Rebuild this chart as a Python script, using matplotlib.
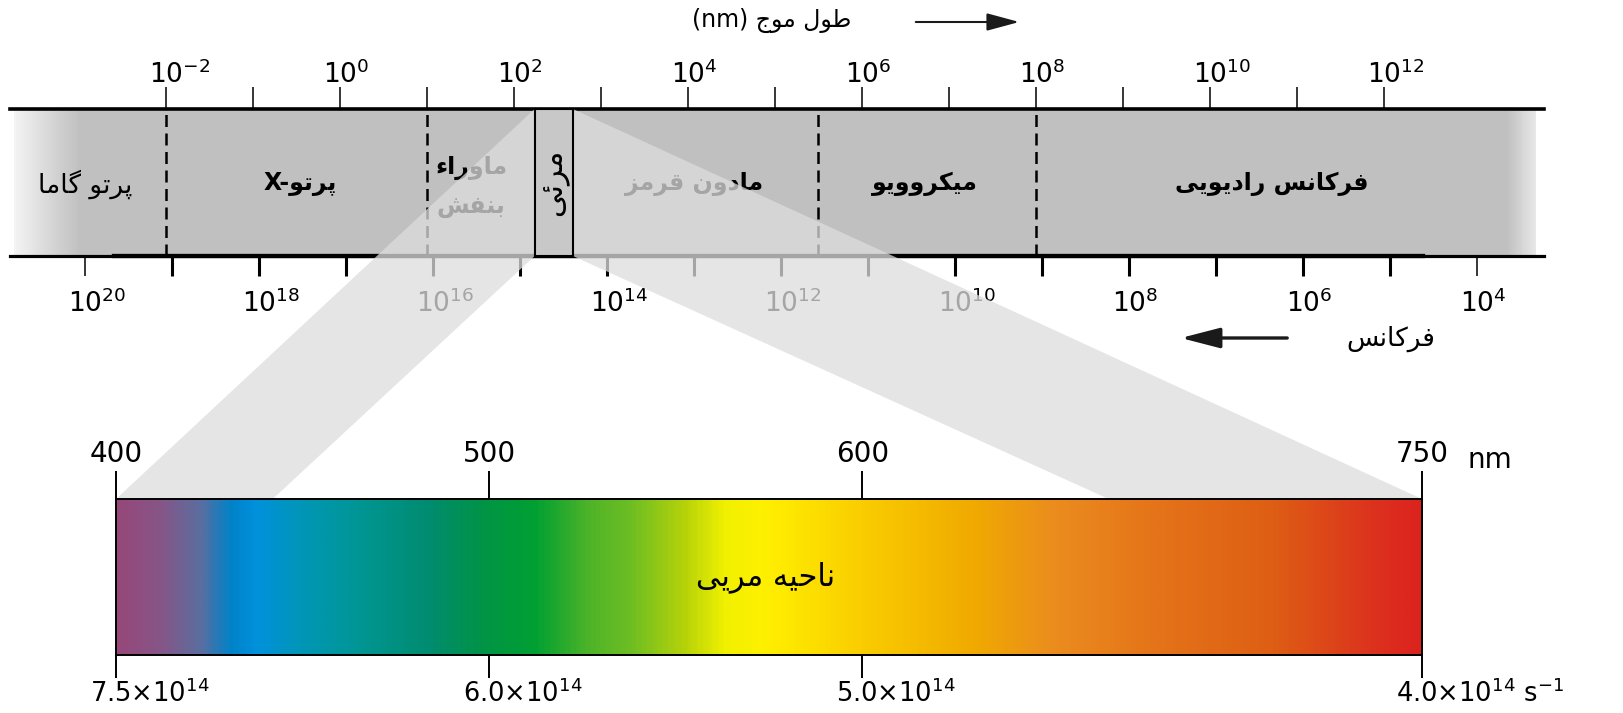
import numpy as np
import matplotlib
matplotlib.use('Agg')
import matplotlib.pyplot as plt
from matplotlib.colors import LinearSegmentedColormap
from matplotlib.patches import Polygon, Rectangle, FancyArrowPatch
from matplotlib.ticker import NullFormatter
from matplotlib.transforms import ScaledTranslation

plt.rcParams['font.family'] = ['DejaVu Sans']
plt.rcParams['mathtext.fontset'] = 'dejavusans'

W, H = 1624, 713

# ---- data -------------------------------------------------------------
# wavelength axis (nm), exponents of ten
wl_lim_exp = (-3.786, 13.837)
wl_major_exp = [-2, 0, 2, 4, 6, 8, 10, 12]
wl_minor_exp = [-1, 1, 3, 5, 7, 9, 11]
wl_labels = [r'$10^{%d}$' % e for e in wl_major_exp]

# frequency axis (Hz); the drawing puts nu*lambda = 10**17.07
c_exp = 17.07
fr_major_exp = [20, 18, 16, 14, 12, 10, 8, 6, 4]
fr_minor_exp = [19, 17, 15, 13, 11, 9, 7, 5]
fr_labels = [r'$10^{%d}$' % e for e in fr_major_exp]
fr_thick_exp = (19.66, 4.62)

# region borders (wavelength exponents)
dashed_exp = [-2, 1, 5.5, 8]
visible_exp = (2.24, 2.68)

region_names = ['پرتو گاما', 'پرتو-X', 'ماوراء\nبنفش', 'مادون قرمز', 'میکروویو', 'فرکانس رادیویی']
region_exp = [-2.93, -0.46, 1.51, 4.07, 6.73, 10.71]
region_y = [0.49, 0.49, 0.47, 0.49, 0.49, 0.49]
region_weight = ['normal', 'bold', 'bold', 'bold', 'bold', 'bold']
region_size = [19, 17, 17, 17, 17, 17]

# band shading (grey level along the wavelength exponent)
fill_exp = [-3.786, -3.74, -3.73, -3.0, 13.42, 13.75, 13.76, 13.837]
fill_val = [1.0, 1.0, 0.95, 0.753, 0.753, 0.91, 1.0, 1.0]

# visible spectrum
spec_ticks_nm = [400, 500, 600, 750]
spec_tick_labels = ['400', '500', '600', '750']
spec_freq = [7.5e14, 6.0e14, 5.0e14, 4.0e14]
spec_freq_labels = [r'7.5×10$^{14}$', r'6.0×10$^{14}$', r'5.0×10$^{14}$', r'4.0×10$^{14}$ s$^{-1}$']
spec_nm = [400, 411, 422, 430, 437, 450, 464, 484, 498, 512, 527, 538, 552, 563,
           574, 600, 630, 652, 680, 710, 738, 750]
spec_rgb = [(150, 72, 122), (135, 85, 135), (90, 110, 160), (0, 130, 200), (0, 145, 220),
            (0, 150, 180), (0, 150, 150), (0, 140, 110), (0, 148, 70), (0, 160, 50),
            (80, 180, 40), (110, 190, 35), (180, 210, 10), (240, 240, 0), (255, 240, 0),
            (250, 205, 0), (240, 170, 0), (235, 140, 30), (228, 115, 25), (222, 95, 20),
            (220, 50, 30), (220, 35, 30)]
beam_inner_nm = (442, 666)


# ---- persian shaping (matplotlib draws glyphs left to right, unjoined) --
FORMS = {
    'ا': (0xFE8D, 0xFE8E, None, None), 'ب': (0xFE8F, 0xFE90, 0xFE91, 0xFE92),
    'پ': (0xFB56, 0xFB57, 0xFB58, 0xFB59), 'ت': (0xFE95, 0xFE96, 0xFE97, 0xFE98),
    'ج': (0xFE9D, 0xFE9E, 0xFE9F, 0xFEA0), 'ح': (0xFEA1, 0xFEA2, 0xFEA3, 0xFEA4),
    'د': (0xFEA9, 0xFEAA, None, None), 'ر': (0xFEAD, 0xFEAE, None, None),
    'ز': (0xFEAF, 0xFEB0, None, None), 'س': (0xFEB1, 0xFEB2, 0xFEB3, 0xFEB4),
    'ش': (0xFEB5, 0xFEB6, 0xFEB7, 0xFEB8), 'ط': (0xFEC1, 0xFEC2, 0xFEC3, 0xFEC4),
    'ف': (0xFED1, 0xFED2, 0xFED3, 0xFED4), 'ق': (0xFED5, 0xFED6, 0xFED7, 0xFED8),
    'ک': (0xFB8E, 0xFB8F, 0xFB90, 0xFB91), 'گ': (0xFB92, 0xFB93, 0xFB94, 0xFB95),
    'ل': (0xFEDD, 0xFEDE, 0xFEDF, 0xFEE0), 'م': (0xFEE1, 0xFEE2, 0xFEE3, 0xFEE4),
    'ن': (0xFEE5, 0xFEE6, 0xFEE7, 0xFEE8), 'و': (0xFEED, 0xFEEE, None, None),
    'ه': (0xFEE9, 0xFEEA, 0xFEEB, 0xFEEC), 'ی': (0xFBFC, 0xFBFD, 0xFBFE, 0xFBFF),
    'ئ': (0xFE89, 0xFE8A, 0xFE8B, 0xFE8C), 'ء': (0xFE80, None, None, None),
}


def shape_line(s):
    out = []
    for i, ch in enumerate(s):
        f = FORMS.get(ch)
        if f is None:
            out.append(ch)
            continue
        prev = s[i - 1] if i > 0 else ''
        nxt = s[i + 1] if i + 1 < len(s) else ''
        jp = prev in FORMS and FORMS[prev][2] is not None and f[1] is not None
        jn = f[2] is not None and nxt in FORMS and FORMS[nxt][1] is not None
        if jp and jn:
            c = f[3]
        elif jp:
            c = f[1]
        elif jn:
            c = f[2]
        else:
            c = f[0]
        out.append(chr(c))
    return ''.join(out)[::-1]


def fa(s):
    return '\n'.join(shape_line(line) for line in s.split('\n'))


def rect(l, t, r, b):
    return [l / W, 1 - b / H, (r - l) / W, (b - t) / H]


def px(x, y):
    return (x / W, 1 - y / H)


def hang_exponent(axis_obj, top):
    # keep the "10" centred on its tick and let the exponent hang to the right
    shift = ScaledTranslation(-12.1 / 72, 0, fig.dpi_scale_trans)
    for t in axis_obj.get_major_ticks():
        lab = t.label2 if top else t.label1
        lab.set_horizontalalignment('left')
        lab.set_transform(lab.get_transform() + shift)


fig = plt.figure(figsize=(W / 100, H / 100), dpi=100)
band_box = rect(10.4, 109, 1543.6, 256)
spec_box = rect(116, 499, 1422, 655)
wl_lim = (10.0 ** wl_lim_exp[0], 10.0 ** wl_lim_exp[1])

# ---- upper band: wavelength scale --------------------------------------
ax = fig.add_axes(band_box)
ax.set_xscale('log')
ax.set_xlim(wl_lim)
ax.set_ylim(0, 1)
edges = np.logspace(wl_lim_exp[0], wl_lim_exp[1], 800)
mids = 0.5 * (np.log10(edges[:-1]) + np.log10(edges[1:]))
shade = np.interp(mids, fill_exp, fill_val)
ax.pcolormesh(edges, [0, 1], shade[np.newaxis, :], cmap='gray', vmin=0, vmax=1,
              shading='flat')
for e in dashed_exp:
    ax.axvline(10.0 ** e, color='black', lw=1.8, ls=(0, (4.8, 2.6)))
for name, e, y, wt, fs in zip(region_names, region_exp, region_y, region_weight,
                              region_size):
    ax.text(10.0 ** e, y, fa(name), ha='center', va='center', fontsize=fs,
            fontweight=wt, linespacing=1.75)
ax.set_yticks([])
ax.set_xticks([10.0 ** e for e in wl_major_exp], labels=wl_labels)
ax.set_xticks([10.0 ** e for e in wl_minor_exp], minor=True)
ax.xaxis.set_minor_formatter(NullFormatter())
ax.tick_params(axis='x', which='both', top=True, bottom=False, labeltop=True,
               labelbottom=False, direction='out', length=15.5, width=1.1,
               labelsize=19, pad=-1.2)
hang_exponent(ax.xaxis, top=True)
for side in ['left', 'right']:
    ax.spines[side].set_visible(False)
ax.spines['top'].set_linewidth(2.6)
ax.spines['bottom'].set_linewidth(2.3)

# ---- upper band: frequency scale (same strip, reversed) ---------------
axf = fig.add_axes(band_box, zorder=0.5)
axf.patch.set_visible(False)
axf.set_xscale('log')
axf.set_xlim(10.0 ** (c_exp - wl_lim_exp[0]), 10.0 ** (c_exp - wl_lim_exp[1]))
axf.set_ylim(0, 1)
axf.set_yticks([])
axf.set_xticks([10.0 ** e for e in fr_major_exp], labels=fr_labels)
axf.set_xticks([10.0 ** e for e in fr_minor_exp], minor=True)
axf.xaxis.set_minor_formatter(NullFormatter())
axf.tick_params(axis='x', which='both', direction='out', length=14.4, width=2.2,
                labelsize=19, pad=10)
hang_exponent(axf.xaxis, top=False)
major = axf.xaxis.get_major_ticks()
major[0].tick1line.set_markeredgewidth(1.1)
major[-1].tick1line.set_markeredgewidth(1.1)
for side in ['left', 'right', 'top']:
    axf.spines[side].set_visible(False)
axf.spines['bottom'].set_linewidth(3.1)
axf.spines['bottom'].set_bounds(10.0 ** fr_thick_exp[0], 10.0 ** fr_thick_exp[1])

# ---- visible spectrum --------------------------------------------------
axs = fig.add_axes(spec_box, zorder=2)
axs.set_xlim(spec_ticks_nm[0], spec_ticks_nm[-1])
axs.set_ylim(0, 1)
pos = [(v - spec_nm[0]) / (spec_nm[-1] - spec_nm[0]) for v in spec_nm]
cmap = LinearSegmentedColormap.from_list(
    'visible', list(zip(pos, [tuple(c / 255 for c in rgb) for rgb in spec_rgb])))
grad = np.linspace(spec_nm[0], spec_nm[-1], 701)
axs.imshow(grad[np.newaxis, :], extent=(spec_nm[0], spec_nm[-1], 0, 1), aspect='auto',
           cmap=cmap, vmin=spec_nm[0], vmax=spec_nm[-1], interpolation='bilinear')
axs.set_yticks([])
axs.set_xticks(spec_ticks_nm, labels=spec_tick_labels)
axs.tick_params(axis='x', top=True, bottom=True, labeltop=True, labelbottom=False,
                direction='out', length=20, width=1.4, labelsize=20, pad=2)
for t in axs.xaxis.get_major_ticks():
    t.tick1line.set_markersize(16.5)
for s in axs.spines.values():
    s.set_linewidth(1.4)
axs.annotate('nm', xy=(spec_ticks_nm[-1], 1), xycoords=('data', 'axes fraction'),
             xytext=(33, 22), textcoords='offset points', ha='left',
             va='baseline', fontsize=20)
for f, lab in zip(spec_freq, spec_freq_labels):
    axs.annotate(lab, xy=(3e17 / f, 0), xycoords=('data', 'axes fraction'),
                 xytext=(-26, -24), textcoords='offset pixels', ha='left', va='top',
                 fontsize=18.5)
axs.text(574, 0.5, fa('ناحیه مریی'), ha='center', va='center', fontsize=22)

# ---- projection from the visible slice to the spectrum -----------------
to_fig = fig.transFigure.inverted()


def band_pt(e, y):
    return to_fig.transform(ax.transData.transform((10.0 ** e, y)))


def spec_pt(nm):
    return to_fig.transform(axs.transData.transform((nm, 1)))


beam = [band_pt(visible_exp[0], 1), band_pt(visible_exp[1], 1),
        spec_pt(spec_ticks_nm[-1]), spec_pt(beam_inner_nm[1]),
        band_pt(visible_exp[1], 0), band_pt(visible_exp[0], 0),
        spec_pt(beam_inner_nm[0]), spec_pt(spec_ticks_nm[0])]
fig.add_artist(Polygon(beam, closed=True, transform=fig.transFigure, fc='#dddddd',
                       alpha=0.75, lw=0, zorder=1))

# visible slice on top of the projection
axv = fig.add_axes(band_box, zorder=2)
axv.set_xscale('log')
axv.set_xlim(wl_lim)
axv.set_ylim(0, 1)
axv.axis('off')
lo, hi = 10.0 ** visible_exp[0], 10.0 ** visible_exp[1]
axv.add_patch(Rectangle((lo, 0), hi - lo, 1, fc='#c8c8c8', ec='black', lw=1.5,
                        clip_on=False))
axv.text(np.sqrt(lo * hi), 0.5, fa('مرئی'), rotation=90, ha='center', va='center',
         fontsize=22)

# ---- axis titles with arrows ------------------------------------------
fig.text(*px(772, 20), '(nm) ' + fa('طول موج'), ha='center', va='center', fontsize=17)
fig.add_artist(FancyArrowPatch(
    px(913, 22), px(1022, 22), transform=fig.transFigure, mutation_scale=1,
    arrowstyle='-|>,head_length=20,head_width=5.4', lw=1.5, color='#1a1a1a'))
fig.text(*px(1391, 339), fa('فرکانس'), ha='center', va='center', fontsize=19)
fig.add_artist(FancyArrowPatch(
    px(1290, 338), px(1178, 338), transform=fig.transFigure, mutation_scale=1,
    arrowstyle='-|>,head_length=24,head_width=6.2', lw=2.4, color='#1a1a1a'))

fig.savefig('out.png', dpi=100, facecolor='white')
